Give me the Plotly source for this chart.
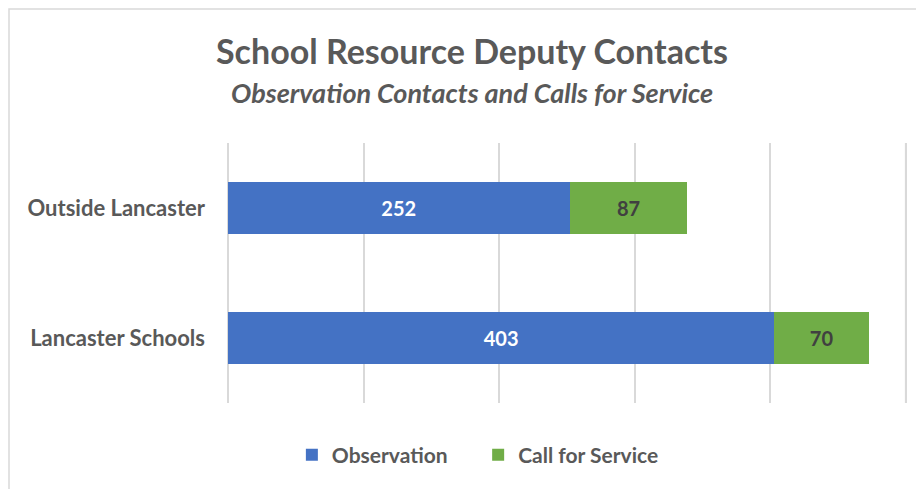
import plotly.graph_objects as go

categories = ["Lancaster Schools", "Outside Lancaster"]
observation = [403, 252]
call_for_service = [70, 87]
series_names = ["Observation", "Call for Service"]
axis_max = 500

FONT = "Lato"
GRAY = "#595959"
PAD = "\u00a0" * 5

fig = go.Figure()
fig.add_trace(go.Bar(
    y=categories, x=observation, name=series_names[0] + PAD, orientation="h",
    marker=dict(color="#4472C4", line=dict(width=0)),
    text=[str(v) for v in observation], textposition="inside",
    insidetextanchor="middle",
    textfont=dict(family=FONT, size=20, color="white", weight="bold"),
))
fig.add_trace(go.Bar(
    y=categories, x=call_for_service, name=series_names[1], orientation="h",
    marker=dict(color="#70AD47", line=dict(width=0)),
    text=[str(v) for v in call_for_service], textposition="inside",
    insidetextanchor="middle",
    textfont=dict(family=FONT, size=20, color="#404040", weight="bold"),
))

# plot area in the page: x 228..907, y 143..403 (page has an 8px body offset)
fig.update_layout(
    width=916, height=481,
    barmode="stack", bargap=0.6,
    margin=dict(l=220, r=17, t=135, b=86),
    paper_bgcolor="white", plot_bgcolor="white",
    font=dict(family=FONT, color=GRAY),
    uniformtext=dict(mode="show", minsize=10),
    xaxis=dict(range=[0, axis_max + 1], tick0=0, dtick=100, showticklabels=False,
               showgrid=True, gridcolor="#d9d9d9", gridwidth=1.5,
               zeroline=True, zerolinecolor="#d9d9d9", zerolinewidth=1.5,
               fixedrange=True),
    yaxis=dict(showgrid=False, ticks="", ticklabelstandoff=22,
               tickfont=dict(family=FONT, size=22, color=GRAY, weight="bold")),
    showlegend=True,
    legend=dict(orientation="h", x=0.368, xanchor="center", y=-0.2, yanchor="middle",
                font=dict(family=FONT, size=21, color=GRAY, weight="bold"),
                itemwidth=30, traceorder="normal"),
    annotations=[
        dict(text="<b>School Resource Deputy Contacts</b>", xref="paper", yref="paper",
             x=0.359, y=(403 - 51) / 260, xanchor="center", yanchor="middle",
             showarrow=False, font=dict(family=FONT, size=34, color=GRAY)),
        dict(text="<b><i>Observation Contacts and Calls for Service</i></b>", xref="paper", yref="paper",
             x=0.359, y=(403 - 92) / 260, xanchor="center", yanchor="middle",
             showarrow=False, font=dict(family=FONT, size=27, color=GRAY)),
    ],
    shapes=[
        dict(type="rect", xref="paper", yref="paper",
             x0=(9 - 228) / 679, x1=(935 - 228) / 679,
             y0=(403 - 500) / 260, y1=(403 - 9) / 260,
             line=dict(color="#d9d9d9", width=1.5), layer="below"),
        dict(type="line", xref="x", yref="paper", x0=axis_max, x1=axis_max, y0=0, y1=1,
             line=dict(color="#d9d9d9", width=1.5), layer="below"),
    ],
)

fig.write_html("out.html")
